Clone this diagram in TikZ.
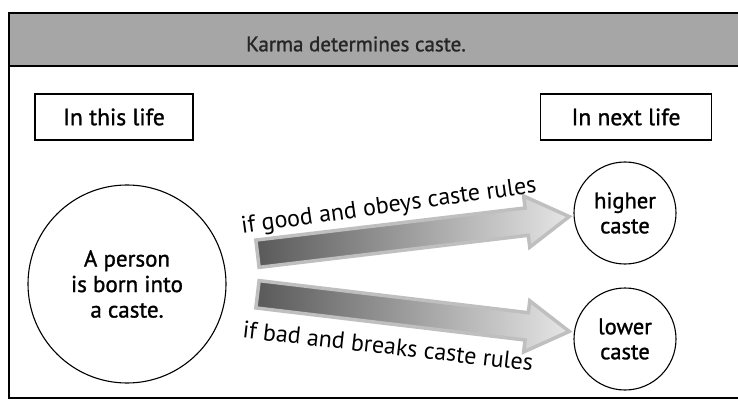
\documentclass[tikz,border=0pt]{standalone}
\usepackage{fontspec}
\setmainfont{PT Sans}
\newfontfamily\semib[FakeBold=1.2]{PT Sans}
\usetikzlibrary{shapes.arrows,calc}
\begin{document}
\begin{tikzpicture}[x=1pt,y=-1pt,
  lbl/.style={font=\fontsize{24}{28}\selectfont},
  headbox/.style={draw, line width=1.3pt, minimum width=158pt, minimum height=46pt, font=\semib\fontsize{23.5}{28}\selectfont},
  bigcirc/.style={draw, circle, line width=1.1pt, align=center, font=\semib\fontsize{23}{25.5}\selectfont},
  fatarrow/.style={single arrow, draw=gray!50, line width=3.5pt, inner xsep=0pt, inner ysep=12pt,
     single arrow head extend=12pt, single arrow tip angle=62, left color=gray!70!black, right color=gray!20}
]
\useasboundingbox (0,0) rectangle (738,403);
\begin{scope}
\clip (0,0) rectangle (738,403);
\fill[gray!70] (9,13) rectangle (750,66);
\draw[line width=1.3pt] (750,13) -- (9,13) -- (9,398) -- (750,398);
\draw[line width=1.3pt] (9,66) -- (750,66);
\end{scope}
\node[font=\semib\fontsize{21}{25}\selectfont, text=black!85] (title) at (356,44) {Karma determines caste.};
\node[headbox] (this) at (114,117) {In this life};
\node[headbox, minimum width=171pt] (next) at (626,117) {In next life};
\node[bigcirc, minimum size=198pt] (person) at (127,284) {A person\\is born into\\a caste.};
\node[bigcirc, minimum size=102pt, font=\semib\fontsize{22.5}{25}\selectfont] (higher) at (625,213) {higher\\caste};
\node[bigcirc, minimum size=102pt, font=\semib\fontsize{22.5}{25}\selectfont] (lower) at (625,339) {lower\\caste};
\coordinate (u1) at (246,255);
\coordinate (u2) at (558,218);
\coordinate (d1) at (246,293);
\coordinate (d2) at (558,330);
\node[fatarrow, minimum height=314pt, rotate=6.8] (up) at ($(u1)!0.5!(u2)$) {};
\node[fatarrow, minimum height=314pt, rotate=-6.8] (down) at ($(d1)!0.5!(d2)$) {};
\node[lbl, rotate=8] (good) at (389,207) {if good and obeys caste rules};
\node[lbl, rotate=-6.5] (bad) at (388,346) {if bad and breaks caste rules};
\end{tikzpicture}
\end{document}
